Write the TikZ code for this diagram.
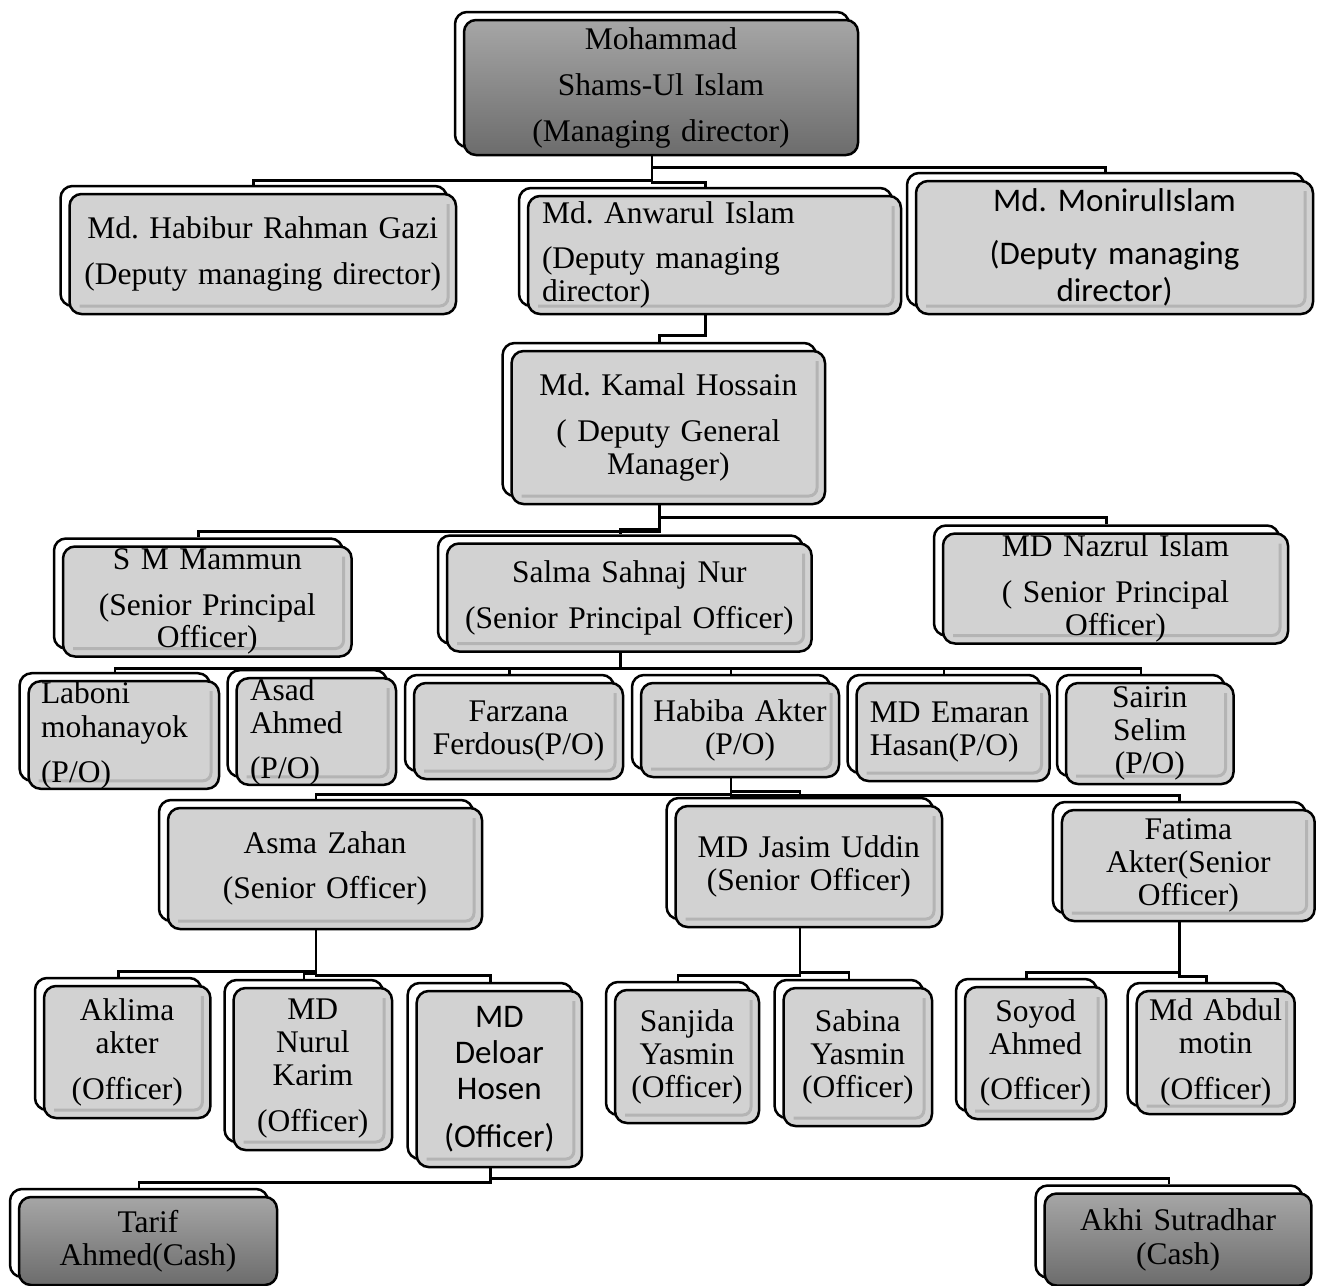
\documentclass[tikz,border=0pt]{standalone}
\usepackage{fontspec}
\setmainfont{Liberation Serif}
\newfontfamily\calibri{Carlito}
\usetikzlibrary{shadows}
\frenchspacing

\definecolor{boxgray}{RGB}{210,210,210}
\definecolor{edgegray}{RGB}{180,180,180}
\definecolor{darktop}{RGB}{166,166,166}
\definecolor{darkbottom}{RGB}{108,108,108}

\tikzset{
	personbox/.style={draw=black, line width=2.5pt, rounded corners=12pt, align=center, inner xsep=6pt, inner ysep=0pt, font=\fontsize{31.5}{33}\selectfont\frenchspacing, copy shadow={shadow xshift=-9pt, shadow yshift=8pt, fill=white, draw=black, line width=2.5pt}},
	inneredge/.style={path picture={\draw[edgegray, line width=3pt, rounded corners=8pt] ([xshift=-8pt,yshift=-10pt]path picture bounding box.north east) -- ([xshift=-8pt,yshift=8pt]path picture bounding box.south east) -- ([xshift=10pt,yshift=8pt]path picture bounding box.south west);}},
	lightbox/.style={personbox, fill=boxgray, inneredge},
	darkbox/.style={personbox, top color=darktop, bottom color=darkbottom},
	calibrifont/.style={font=\calibri\fontsize{33}{#1}\selectfont\frenchspacing},
	connector/.style={draw=black, line width=2.6pt}
}

\begin{document}
\begin{tikzpicture}[x=1pt, y=-1pt]
	\useasboundingbox (0,0) rectangle (1317,1285);
	\clip (0,0) rectangle (1317,1285);

	\node[darkbox, text width=382pt, minimum height=135pt] (md) at (661,87.5) {Mohammad\\[13pt] Shams-Ul Islam\\[13pt] (Managing director)};

	\node[lightbox, text width=374.5pt, minimum height=120pt] (habib) at (262.75,254) {Md. Habibur Rahman Gazi\\[13pt] (Deputy managing director)};
	\node[lightbox, align=left, inner xsep=14pt, text width=345pt, minimum height=118pt] (anwar) at (714.5,255) {Md. Anwarul Islam\\[12pt] (Deputy managing\\ director)};
	\node[lightbox, calibrifont=37, text width=385pt, minimum height=133pt] (monir) at (1114.5,247.5) {Md. MonirulIslam\\[16pt] (Deputy managing\\ director)};

	\node[lightbox, text width=301.4pt, minimum height=153pt] (kamal) at (668.3,427.5) {Md. Kamal Hossain\\[13pt] ( Deputy General\\ Manager)};

	\node[lightbox, text width=276.6pt, minimum height=110pt] (mammun) at (207.3,601.5) {S M Mammun\\[13pt] (Senior Principal\\[-1pt] Officer)};
	\node[lightbox, text width=352.6pt, minimum height=108pt] (salma) at (629.3,597.5) {Salma Sahnaj Nur\\[13pt] (Senior Principal Officer)};
	\node[lightbox, text width=333pt, minimum height=110pt] (nazrul) at (1115.5,588.5) {MD Nazrul Islam\\[13pt] ( Senior Principal\\ Officer)};

	\node[lightbox, align=left, inner xsep=12.4pt, text width=165.6pt, minimum height=103pt] (laboni) at (123.8,735) {Laboni\\[1pt] mohanayok\\[12pt] (P/O)};
	\node[lightbox, align=left, inner xsep=13.4pt, text width=132.6pt, minimum height=97pt] (asad) at (316.3,731.5) {Asad\\ Ahmed\\[12pt] (P/O)};
	\node[lightbox, text width=197pt, minimum height=96pt] (farzana) at (518.5,731) {Farzana\\ Ferdous(P/O)};
	\node[lightbox, text width=186pt, minimum height=94pt] (habiba) at (740,730) {Habiba Akter\\ (P/O)};
	\node[lightbox, align=left, inner xsep=13.4pt, text width=166.2pt, minimum height=98pt] (emaran) at (953,732) {MD Emaran\\ Hasan(P/O)};
	\node[lightbox, text width=155.5pt, minimum height=101pt] (sairin) at (1149.8,733.5) {Sairin\\ Selim\\ (P/O)};

	\node[lightbox, text width=302pt, minimum height=121pt] (asma) at (325,868.5) {Asma Zahan\\[12pt] (Senior Officer)};
	\node[lightbox, text width=254.4pt, minimum height=121pt] (jasim) at (808.8,866.5) {MD Jasim Uddin\\ (Senior Officer)};
	\node[lightbox, text width=240.7pt, minimum height=111pt] (fatima) at (1188.3,865.5) {Fatima\\ Akter(Senior\\ Officer)};

	\node[lightbox, text width=154.4pt, minimum height=132pt] (aklima) at (127.2,1052) {Aklima\\ akter\\[13pt] (Officer)};
	\node[lightbox, text width=146.4pt, minimum height=162pt] (nurul) at (312.8,1069) {MD\\ Nurul\\ Karim\\[13pt] (Officer)};
	\node[lightbox, calibrifont=36, text width=153.3pt, minimum height=176pt] (deloar) at (499.3,1079) {MD\\ Deloar\\ Hosen\\[12pt] (Officer)};
	\node[lightbox, text width=132pt, minimum height=133pt] (sanjida) at (687,1056.5) {Sanjida\\ Yasmin\\ (Officer)};
	\node[lightbox, text width=136.4pt, minimum height=138pt] (sabina) at (857.8,1057) {Sabina\\ Yasmin\\ (Officer)};
	\node[lightbox, text width=129pt, minimum height=132pt] (soyod) at (1035.5,1053) {Soyod\\ Ahmed\\[12pt] (Officer)};
	\node[lightbox, text width=146pt, minimum height=123pt] (abdul) at (1215.7,1052.5) {Md Abdul\\ motin\\[13pt] (Officer)};

	\node[darkbox, text width=246pt, minimum height=88pt] (tarif) at (148,1241) {Tarif\\ Ahmed(Cash)};
	\node[darkbox, text width=254.8pt, minimum height=92pt] (akhi) at (1178,1239.5) {Akhi Sutradhar\\[1pt] (Cash)};

	\draw[connector] ([xshift=-9pt]md.south) -- ++(0,24) -| ([xshift=-9pt,yshift=8pt]habib.north);
	\draw[connector] ([xshift=-9pt]md.south) -- ++(0,26) -| ([xshift=-9pt,yshift=8pt]anwar.north);
	\draw[connector] ([xshift=-9pt]md.south) -- ++(0,11) -| ([xshift=-9pt,yshift=8pt]monir.north);

	\draw[connector] ([xshift=-9pt]anwar.south) -- ++(0,20) -| ([xshift=-9pt,yshift=8pt]kamal.north);

	\draw[connector] ([xshift=-9pt]kamal.south) -- ++(0,26) -| ([xshift=-9pt,yshift=8pt]mammun.north);
	\draw[connector] ([xshift=-9pt]kamal.south) -- ++(0,24) -| ([xshift=-9pt,yshift=8pt]salma.north);
	\draw[connector] ([xshift=-9pt]kamal.south) -- ++(0,12) -| ([xshift=-9pt,yshift=8pt]nazrul.north);

	\foreach \child in {laboni,asad,farzana,habiba,emaran,sairin}
		\draw[connector] ([xshift=-9pt]salma.south) -- ++(0,16) -| ([xshift=-9pt,yshift=8pt]\child.north);

	\draw[connector] ([xshift=-9pt]habiba.south) -- ++(0,16) -| ([xshift=-9pt,yshift=8pt]asma.north);
	\draw[connector] ([xshift=-9pt]habiba.south) -- ++(0,13) -| ([xshift=-9pt,yshift=8pt]jasim.north);
	\draw[connector] ([xshift=-9pt]habiba.south) -- ++(0,17) -| ([xshift=-9pt,yshift=8pt]fatima.north);

	\draw[connector] ([xshift=-9pt]asma.south) -- ++(0,41) -| ([xshift=-9pt,yshift=8pt]aklima.north);
	\draw[connector] ([xshift=-9pt]asma.south) -- ++(0,43) -| ([xshift=-9pt,yshift=8pt]nurul.north);
	\draw[connector] ([xshift=-9pt]asma.south) -- ++(0,45) -| ([xshift=-9pt,yshift=8pt]deloar.north);
	\draw[connector] ([xshift=-9pt]jasim.south) -- ++(0,47) -| ([xshift=-9pt,yshift=8pt]sanjida.north);
	\draw[connector] ([xshift=-9pt]jasim.south) -- ++(0,44) -| ([xshift=-9pt,yshift=8pt]sabina.north);
	\draw[connector] ([xshift=-9pt]fatima.south) -- ++(0,50) -| ([xshift=-9pt,yshift=8pt]soyod.north);
	\draw[connector] ([xshift=-9pt]fatima.south) -- ++(0,54) -| ([xshift=-9pt,yshift=8pt]abdul.north);

	\draw[connector] ([xshift=-9pt]deloar.south) -- ++(0,14) -| ([xshift=-9pt,yshift=8pt]tarif.north);
	\draw[connector] ([xshift=-9pt]deloar.south) -- ++(0,10) -| ([xshift=-9pt,yshift=8pt]akhi.north);
\end{tikzpicture}
\end{document}
